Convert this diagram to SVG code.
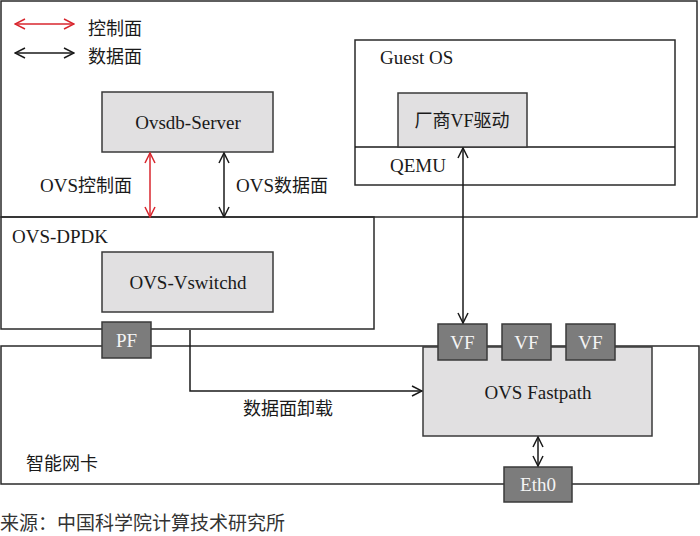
<svg xmlns="http://www.w3.org/2000/svg" width="700" height="536" viewBox="0 0 700 536">
<defs>
<marker id="ak" viewBox="0 0 12 12" refX="11" refY="6" markerWidth="12" markerHeight="12" markerUnits="userSpaceOnUse" orient="auto-start-reverse"><path d="M1,1 L11,6 L1,11" fill="none" stroke="#1a1a1a" stroke-width="1.5"/></marker>
<marker id="ar" viewBox="0 0 12 12" refX="11" refY="6" markerWidth="12" markerHeight="12" markerUnits="userSpaceOnUse" orient="auto-start-reverse"><path d="M1,1 L11,6 L1,11" fill="none" stroke="#d8262e" stroke-width="1.5"/></marker>
<style>
.t{font-family:"Liberation Serif","Noto Sans CJK SC",serif;font-size:18px;fill:#1a1a1a}
.l{font-size:19px}
.frame{fill:none;stroke:#2a2a2a;stroke-width:1.5}
.light{fill:#e1e0e1;stroke:#3a3a3a;stroke-width:1.5}
.dark{fill:#7c7c7c;stroke:#3a3a3a;stroke-width:1.5}
.wt{font-family:"Liberation Serif",serif;font-size:19px;fill:#f4f4f4}
.k{fill:none;stroke:#1a1a1a;stroke-width:1.5}
.r{fill:none;stroke:#d8262e;stroke-width:1.5}
</style>
</defs>
<rect width="700" height="536" fill="#fff"/>
<g id="host"><rect class="frame" x="1" y="1" width="696" height="216"/></g>
<g id="legend">
<line class="r" x1="15" y1="24" x2="74" y2="24" marker-start="url(#ar)" marker-end="url(#ar)"/>
<text class="t" x="88" y="35">控制面</text>
<line class="k" x1="15" y1="53" x2="74" y2="53" marker-start="url(#ak)" marker-end="url(#ak)"/>
<text class="t" x="88" y="63">数据面</text>
</g>
<g id="guest-os"><rect class="frame" x="355" y="40" width="320" height="145"/><line class="k" x1="355" y1="147" x2="675" y2="147"/><text class="t l" x="380" y="64">Guest OS</text><text class="t l" x="390" y="172">QEMU</text></g>
<g id="vf-driver"><rect class="light" x="398" y="93" width="129" height="54"/><text class="t" x="462" y="127" text-anchor="middle">厂商VF驱动</text></g>
<g id="ovsdb-server"><rect class="light" x="102" y="92" width="171" height="60"/><text class="t l" x="188" y="129" text-anchor="middle">Ovsdb-Server</text></g>
<g id="ovs-dpdk"><rect class="frame" x="1" y="217" width="373" height="112"/><text class="t l" x="12" y="243">OVS-DPDK</text></g>
<g id="ovs-vswitchd"><rect class="light" x="102" y="252" width="171" height="60"/><text class="t l" x="188" y="289" text-anchor="middle">OVS-Vswitchd</text></g>
<g id="smart-nic"><rect class="frame" x="1" y="346" width="698" height="138"/><text class="t" x="26" y="470">智能网卡</text></g>
<g id="ovs-fastpath"><rect class="light" x="423" y="347" width="229" height="89"/><text class="t l" x="538" y="399" text-anchor="middle">OVS Fastpath</text></g>
<g id="pf"><rect class="dark" x="102" y="322" width="49" height="36"/><text class="wt" x="126.5" y="347" text-anchor="middle">PF</text></g>
<g id="vf1"><rect class="dark" x="438" y="324" width="49" height="36"/><text class="wt" x="462.5" y="349" text-anchor="middle">VF</text></g>
<g id="vf2"><rect class="dark" x="502" y="324" width="49" height="36"/><text class="wt" x="526.5" y="349" text-anchor="middle">VF</text></g>
<g id="vf3"><rect class="dark" x="566" y="324" width="49" height="36"/><text class="wt" x="590.5" y="349" text-anchor="middle">VF</text></g>
<g id="eth0"><rect class="dark" x="504" y="467" width="68" height="35"/><text class="wt" x="538" y="491" text-anchor="middle">Eth0</text></g>
<g id="connectors">
<line class="r" x1="150" y1="153" x2="150" y2="217" marker-start="url(#ar)" marker-end="url(#ar)"/>
<line class="k" x1="224" y1="153" x2="224" y2="217" marker-start="url(#ak)" marker-end="url(#ak)"/>
<text class="t" x="40" y="192"><tspan class="l">OVS</tspan>控制面</text>
<text class="t" x="236" y="192"><tspan class="l">OVS</tspan>数据面</text>
<line class="k" x1="463" y1="148" x2="463" y2="323" marker-start="url(#ak)" marker-end="url(#ak)"/>
<polyline class="k" points="190,330 190,391 422,391" marker-end="url(#ak)"/>
<text class="t" x="243" y="415">数据面卸载</text>
<line class="k" x1="538" y1="437" x2="538" y2="466" marker-start="url(#ak)" marker-end="url(#ak)"/>
</g>
<text class="t" x="0" y="530" style="fill:#333;font-size:19px">来源：中国科学院计算技术研究所</text>
</svg>
